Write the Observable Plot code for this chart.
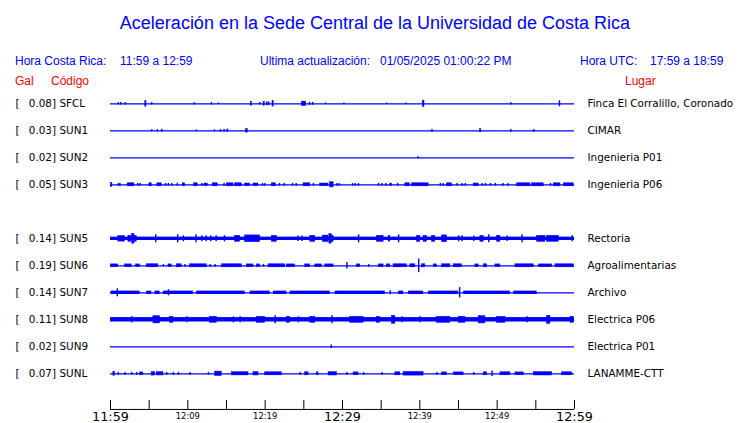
<!DOCTYPE html>
<html>
<head>
<meta charset="utf-8">
<script src="https://cdn.jsdelivr.net/npm/d3@7"></script>
<script src="https://cdn.jsdelivr.net/npm/@observablehq/plot@0.6"></script>
<style>
  html, body { margin: 0; padding: 0; background: #fff; }
  #hdr { position: relative; width: 740px; height: 90px; font-family: "Liberation Sans", Arial, sans-serif; }
  #hdr div { position: absolute; white-space: pre; }
  .b { color: #0000ff; font-size: 12px; line-height: 12px; }
  .r { color: #ff0000; font-size: 12px; line-height: 12px; }
  #chart svg { display: block; }
</style>
</head>
<body>
<div id="hdr"></div>
<div id="chart"></div>
<script>
// ---------- text ----------
const title = "Aceleración en la Sede Central de la Universidad de Costa Rica";
const localLabel = "Hora Costa Rica:", localRange = "11:59 a 12:59";
const updLabel = "Ultima actualización:", updValue = "01/05/2025 01:00:22 PM";
const utcLabel = "Hora UTC:", utcRange = "17:59 a 18:59";
const colGal = "Gal", colCode = "Código", colPlace = "Lugar";

// ---------- stations (SUN4 slot is empty in the display) ----------
const codes   = ["SFCL","SUN1","SUN2","SUN3","SUN4","SUN5","SUN6","SUN7","SUN8","SUN9","SUNL"];
const peakGal = [0.08, 0.03, 0.02, 0.05, null, 0.14, 0.19, 0.14, 0.11, 0.02, 0.07];
const places  = ["Finca El Corralillo, Coronado","CIMAR","Ingenieria P01","Ingenieria P06",null,
                 "Rectoria","Agroalimentarias","Archivo","Electrica P06","Electrica P01","LANAMME-CTT"];

// time axis: minutes after 11:59
const tickMinutes = [0,5,10,15,20,25,30,35,40,45,50,55,60];
const labelMinutes = [0,10,20,30,40,50,60];
const labelTexts = ["11:59","12:09","12:19","12:29","12:39","12:49","12:59"];
const majorLabels = ["11:59","12:29","12:59"];

// continuous noise band: [start min, end min]; half amplitude (Gal) per station
const sun5Band = [[0,60]];
const sun7Band = [[0.06,3.82],[4.68,5.33],[5.76,6.41],[6.84,10.72],[11.15,17.41],[18.06,20.65],[21.08,22.8],
  [23.23,28.41],[29.06,35.53],[37.26,37.9],[38.55,40.49],[41.14,45.02],[45.67,51.71],[52.14,55.17]];
const sun8Band = [[0,60]];
const bandAmp = [0,0,0,0,null,0.042,0,0.042,0.055,0,0];

// bursts: [start min, end min, half amplitude Gal]
const sfclBursts = [[1.01,1.01,0.03],[1.32,1.32,0.03],[1.92,1.92,0.03],[4.5,4.65,0.075],[5.33,5.33,0.03],[10.85,10.85,0.03],
  [13.05,13.05,0.03],[13.96,13.96,0.02],[18.15,18.3,0.05],[19.31,19.31,0.03],[19.8,19.95,0.055],[20.22,20.22,0.05],
  [20.47,20.47,0.045],[20.95,21.1,0.07],[24.75,25.31,0.055],[25.74,25.74,0.035],[26.13,26.13,0.035],[27.81,27.81,0.02],
  [30.18,30.18,0.02],[35.7,35.7,0.02],[38.21,38.21,0.02],[40.4,40.6,0.08],[51.76,51.76,0.03],[58.06,58.06,0.075]];
const sun1Bursts = [[5.33,5.33,0.025],[6.06,6.06,0.03],[6.62,6.62,0.035],[11.11,11.11,0.025],[13.44,13.44,0.025],
  [14.22,14.22,0.03],[14.69,14.69,0.03],[15.1,15.25,0.035],[17.55,17.75,0.045],[41.57,41.57,0.035],[47.8,47.95,0.04],
  [51.76,51.76,0.035],[54.73,54.73,0.035]];
const sun2Bursts = [[39.76,39.76,0.025]];
const sun3Bursts = [[0.06,0.24,0.05],[1.01,1.01,0.035],[1.23,1.23,0.035],[2.22,3.09,0.038],[3.52,3.52,0.035],[3.82,3.82,0.035],
  [5.03,5.33,0.038],[6.06,6.62,0.038],[7.14,7.14,0.035],[7.49,7.49,0.035],[7.92,7.92,0.035],[8.65,8.65,0.04],[9.34,9.65,0.038],
  [10.81,11.28,0.038],[11.81,11.81,0.035],[12.15,12.58,0.032],[13.22,13.87,0.038],[14.69,14.69,0.035],[15.04,15.9,0.038],
  [16.12,16.98,0.038],[17.41,18.06,0.032],[18.49,19.14,0.032],[19.66,19.66,0.035],[19.96,19.96,0.035],[20.86,21.38,0.038],
  [21.86,21.86,0.035],[22.46,22.46,0.035],[23.54,23.54,0.035],[24.02,24.02,0.035],[24.96,25.83,0.038],[26.25,26.25,0.035],
  [27.12,28.2,0.032],[28.41,28.85,0.065],[29.28,29.28,0.035],[29.58,29.58,0.035],[31.3,31.3,0.03],[31.65,31.65,0.03],
  [32.08,32.08,0.03],[34.67,34.67,0.035],[35.1,35.1,0.035],[35.62,35.62,0.035],[36.18,36.4,0.032],[37.13,37.13,0.035],
  [38.12,38.7,0.038],[39.0,41.14,0.038],[42.65,42.65,0.035],[43.0,43.0,0.035],[43.51,44.16,0.038],[44.81,44.81,0.035],
  [45.46,45.46,0.035],[45.89,45.89,0.035],[46.97,47.61,0.032],[48.05,48.05,0.035],[48.48,48.48,0.035],[49.12,49.12,0.035],
  [49.77,49.77,0.035],[50.76,50.76,0.035],[51.41,51.41,0.035],[52.58,54.3,0.038],[54.52,56.03,0.038],[56.89,56.89,0.035],
  [57.32,58.19,0.038],[58.62,59.91,0.038]];
const sun5Bursts = [[1.01,1.88,0.07],[2.31,2.7,0.075],[2.8,3.1,0.12],[3.15,3.39,0.075],[5.85,5.85,0.1],[8.69,8.69,0.1],
  [9.43,9.43,0.075],[11.07,11.07,0.1],[11.8,11.8,0.075],[12.36,12.36,0.075],[12.97,12.97,0.075],[13.66,13.66,0.075],
  [14.74,14.74,0.075],[16.12,16.77,0.075],[17.41,19.35,0.085],[20.86,21.51,0.075],[24.23,24.23,0.07],[24.75,24.75,0.07],
  [25.83,26.48,0.075],[27.46,28.2,0.08],[28.3,28.6,0.12],[28.6,28.85,0.08],[32.08,32.08,0.1],[34.45,35.32,0.075],
  [35.96,36.18,0.07],[37.26,37.26,0.1],[39.63,40.06,0.075],[40.49,40.93,0.075],[41.57,42.0,0.075],[42.87,43.51,0.085],
  [45.02,45.02,0.075],[45.46,45.46,0.075],[46.97,46.97,0.07],[47.83,48.26,0.075],[48.91,48.91,0.1],[49.99,50.42,0.075],
  [51.28,51.28,0.07],[53.22,53.22,0.1],[55.17,56.24,0.075],[56.46,57.97,0.075],[59.7,59.7,0.075]];
const sun6Bursts = [[0.06,1.01,0.035],[1.88,2.74,0.035],[3.3,3.82,0.035],[4.68,6.19,0.038],[6.84,6.84,0.035],[7.49,7.92,0.035],
  [8.56,9.21,0.038],[9.64,9.64,0.035],[10.29,12.45,0.038],[12.88,12.88,0.035],[13.53,13.53,0.035],[14.39,16.98,0.038],
  [17.63,18.49,0.035],[18.92,19.35,0.035],[19.78,19.78,0.035],[20.43,22.59,0.038],[22.8,23.88,0.035],[25.18,25.83,0.035],
  [26.48,27.34,0.035],[27.77,28.85,0.035],[30.57,30.57,0.08],[31.87,32.3,0.035],[33.38,33.38,0.035],[34.67,35.32,0.035],
  [35.75,36.18,0.035],[36.6,38.34,0.038],[38.77,39.42,0.038],[39.85,39.85,0.17],[40.28,40.71,0.038],[41.79,42.22,0.035],
  [42.87,43.95,0.038],[44.38,45.46,0.038],[47.18,47.61,0.035],[48.26,48.69,0.038],[49.77,50.42,0.035],[52.36,54.73,0.038],
  [55.38,57.11,0.035],[57.54,59.91,0.038]];
const sun7Bursts = [[0.88,0.88,0.1],[7.49,7.49,0.075],[36.18,36.18,0.05],[45.15,45.15,0.13]];
const sun8Bursts = [[2.74,2.74,0.08],[5.55,6.41,0.09],[7.7,8.13,0.075],[9.86,9.86,0.075],[12.88,13.74,0.075],[15.9,15.9,0.075],
  [16.77,16.77,0.075],[18.92,20.0,0.075],[21.3,21.3,0.1],[22.8,23.23,0.075],[24.31,24.31,0.075],[25.83,26.48,0.075],
  [28.63,28.63,0.1],[30.99,32.73,0.075],[34.45,34.88,0.075],[36.39,36.83,0.1],[37.69,37.69,0.075],[40.06,40.06,0.075],
  [42.22,43.95,0.075],[45.02,45.89,0.075],[47.61,48.48,0.09],[49.99,51.07,0.075],[53.87,53.87,0.075],[56.46,56.89,0.1],
  [59.48,59.91,0.075]];
const sun9Bursts = [[28.54,28.54,0.045]];
const sunlBursts = [[0.37,0.58,0.05],[1.01,1.01,0.035],[1.88,1.88,0.035],[2.74,2.74,0.035],[3.39,3.39,0.035],[3.82,4.25,0.035],
  [5.33,5.76,0.045],[5.98,6.84,0.042],[7.27,7.27,0.035],[8.13,8.13,0.035],[8.78,8.78,0.035],[10.29,10.29,0.035],
  [12.66,12.66,0.035],[13.53,14.39,0.055],[15.68,17.84,0.04],[18.49,19.14,0.042],[20.0,22.16,0.038],[24.53,24.53,0.035],
  [25.18,25.61,0.038],[26.69,26.9,0.038],[28.2,29.28,0.042],[30.57,30.57,0.035],[31.43,32.08,0.035],[32.73,32.73,0.035],
  [35.1,35.1,0.035],[36.83,37.47,0.038],[37.9,40.49,0.045],[42.22,42.22,0.035],[42.87,43.51,0.035],[44.38,45.67,0.035],
  [46.97,46.97,0.035],[48.26,48.69,0.038],[49.34,49.34,0.07],[50.42,51.71,0.038],[52.36,53.44,0.035],[54.73,57.11,0.042],
  [58.4,59.7,0.038]];

const burstsByStation = [sfclBursts, sun1Bursts, sun2Bursts, sun3Bursts, [], sun5Bursts, sun6Bursts, sun7Bursts, sun8Bursts, sun9Bursts, sunlBursts];
const bandsByStation = [[],[],[],[],[], sun5Band, [], sun7Band, sun8Band, [], []];

// ---------- header ----------
const hdr = document.getElementById("hdr");
function put(cls, left, top, text, extra) {
  const d = document.createElement("div");
  d.className = cls; d.style.left = left + "px"; d.style.top = top + "px";
  if (extra) Object.assign(d.style, extra);
  d.textContent = text; hdr.appendChild(d);
}
put("b", 0, 14, title, {width: "750px", textAlign: "center", fontSize: "18px", lineHeight: "18px"});
put("b", 15, 55, localLabel); put("b", 120, 55, localRange);
put("b", 260, 55, updLabel); put("b", 380, 55, updValue);
put("b", 580, 55, utcLabel); put("b", 650, 55, utcRange);
put("r", 15, 75, colGal); put("r", 51, 75, colCode); put("r", 625, 75, colPlace);

// ---------- chart ----------
const GAL_PER_ROW = 0.675;
const stations = codes.map((code, i) => ({code, row: i, gal: peakGal[i], place: places[i]})).filter(d => d.place);
const bursts = stations.flatMap(s => burstsByStation[s.row].map(([a, b, amp]) =>
  ({x1: a, x2: b, y1: s.row - amp / GAL_PER_ROW, y2: s.row + amp / GAL_PER_ROW})));
const spikes = bursts.filter(d => d.x1 === d.x2);
const spans = bursts.filter(d => d.x1 !== d.x2);
const bands = stations.flatMap(s => bandsByStation[s.row].map(([a, b]) =>
  ({x1: a, x2: b, y1: s.row - bandAmp[s.row] / GAL_PER_ROW, y2: s.row + bandAmp[s.row] / GAL_PER_ROW})));
const axisRow = 11.32, tickTopRow = 10.99;
const labels = labelMinutes.map((m, i) => ({m, t: labelTexts[i], major: majorLabels.includes(labelTexts[i])}));
const blue = "#0000ff";

const chart = Plot.plot({
  width: 740, height: 333,
  marginLeft: 110, marginRight: 166, marginTop: 0, marginBottom: 0,
  x: {domain: [0, 60], axis: null},
  y: {domain: [0, 10], range: [13.3, 283.3], axis: null},
  style: {fontFamily: "DejaVu Sans", background: "white", overflow: "visible"},
  marks: [
    Plot.ruleY(stations, {y: "row", x1: 0, x2: 60, stroke: blue, strokeWidth: 1.3}),
    Plot.rect(bands, {x1: "x1", x2: "x2", y1: "y1", y2: "y2", fill: blue}),
    Plot.rect(spans, {x1: "x1", x2: "x2", y1: "y1", y2: "y2", fill: blue, stroke: blue, strokeWidth: 0.5}),
    Plot.ruleX(spikes, {x: "x1", y1: "y1", y2: "y2", stroke: blue, strokeWidth: 1.4}),
    Plot.text(stations, {y: "row", frameAnchor: "left", dx: -95, text: () => "[", textAnchor: "start", fontSize: 10.4, fill: "black"}),
    Plot.text(stations, {y: "row", frameAnchor: "left", dx: -54.5, text: d => d.gal.toFixed(2) + "]", textAnchor: "end", fontSize: 10.4, fill: "black"}),
    Plot.text(stations, {y: "row", frameAnchor: "left", dx: -51, text: "code", textAnchor: "start", fontSize: 10.4, fill: "black"}),
    Plot.text(stations, {y: "row", frameAnchor: "right", dx: 13, text: "place", textAnchor: "start", fontSize: 10.4, fill: "black"}),
    Plot.ruleY([axisRow], {x1: 0, x2: 60, stroke: "black", strokeWidth: 1}),
    Plot.ruleX(tickMinutes, {x: d => d, y1: tickTopRow, y2: axisRow, stroke: "black", strokeWidth: 1}),
    Plot.text(labels.filter(d => !d.major), {x: "m", y: 11.67, text: "t", lineAnchor: "bottom", fontSize: 8.4, fill: "black"}),
    Plot.text(labels.filter(d => d.major), {x: "m", y: 11.73, text: "t", lineAnchor: "bottom", fontSize: 12.8, fill: "black"})
  ]
});
document.getElementById("chart").appendChild(chart);
</script>
</body>
</html>
